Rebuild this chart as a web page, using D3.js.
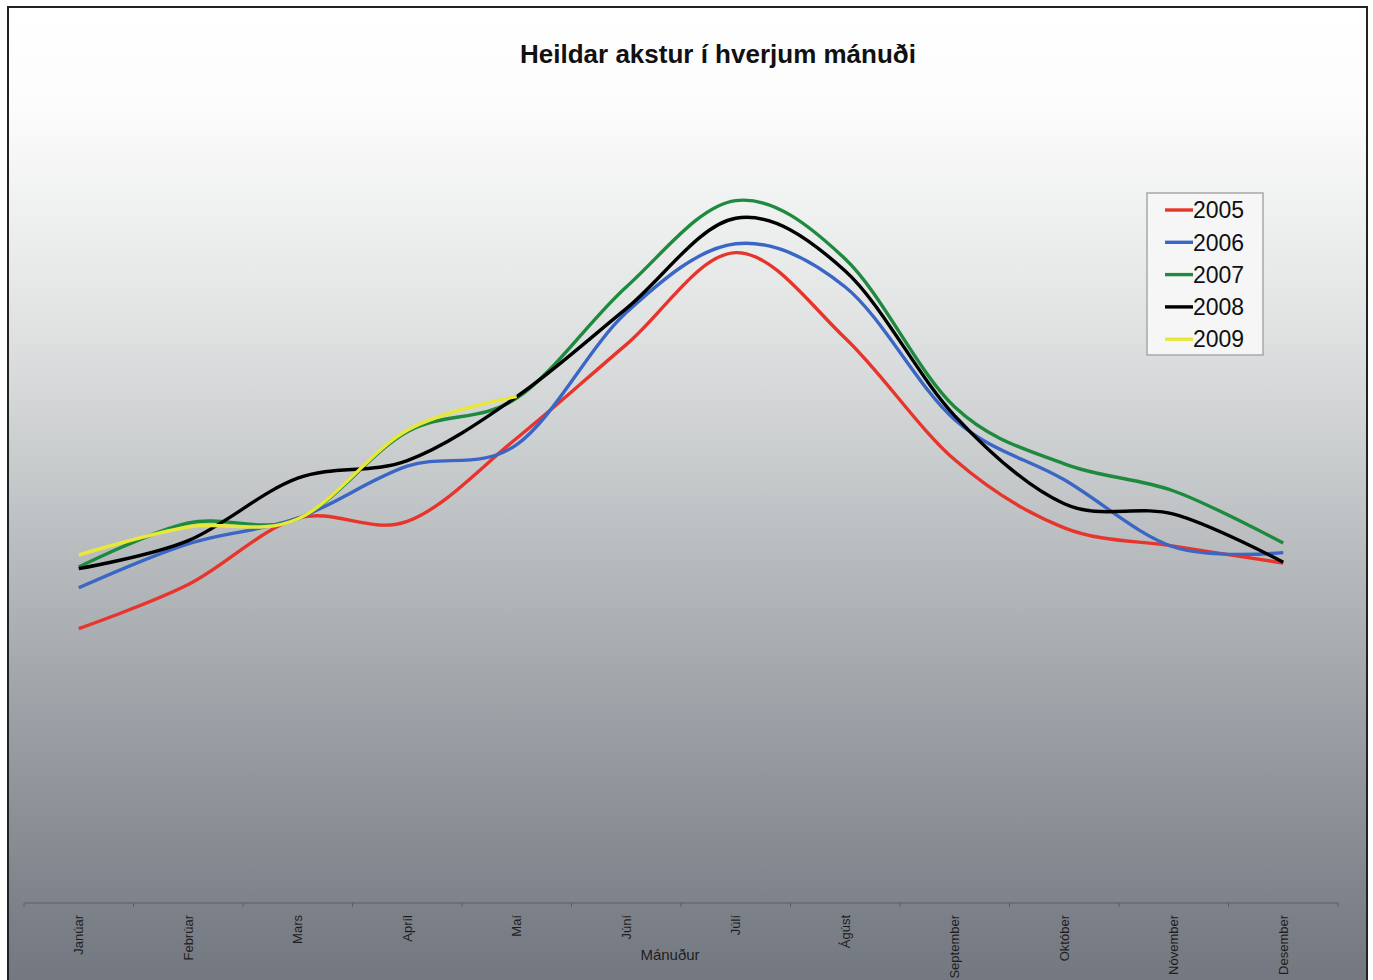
<!DOCTYPE html>
<html>
<head>
<meta charset="utf-8">
<script src="https://cdn.jsdelivr.net/npm/d3@7"></script>
<style>
  body { margin: 0; background: #fff; }
  svg { display: block; font-family: "Liberation Sans", Arial, sans-serif; }
</style>
</head>
<body>
<div id="chart"></div>
<script>
(function(){
    // data (no y axis in the original, arbitrary units)
    const months = ['Janúar', 'Febrúar', 'Mars', 'Apríl', 'Maí', 'Júní', 'Júlí',
                    'Ágúst', 'September', 'Október', 'Nóvember', 'Desember'];
    const years = ['2005', '2006', '2007', '2008', '2009'];
    const v2005 = [34.3, 39.8, 48.1, 47.7, 58.1, 69.8, 81.3, 70.6, 55.4, 46.9, 44.6, 42.5];
    const v2006 = [39.4, 44.9, 48.1, 54.6, 57.3, 73.8, 82.4, 77.0, 60.4, 52.9, 44.5, 43.8];
    const v2007 = [42.0, 47.5, 48.0, 58.9, 63.1, 77.0, 87.8, 80.5, 62.0, 54.9, 51.5, 45.0];
    const v2008 = [41.8, 45.3, 53.1, 55.3, 63.3, 74.3, 85.6, 79.0, 60.9, 49.9, 48.6, 42.6];
    const v2009 = [43.5, 47.0, 48.0, 59.1, 63.3];
    const colors = ['#e8352c', '#3a66c6', '#1e8a3e', '#000000', '#e8e83a'];

    const series = years.map((y, i) => ({
        year: y,
        color: colors[i],
        values: [v2005, v2006, v2007, v2008, v2009][i]
    }));

    const fullWidth = 1373;
    const fullHeight = 980;

    const svg = d3.select('#chart')
        .append('svg')
            .attr('width', fullWidth)
            .attr('height', fullHeight);

    const defs = svg.append('defs');
    const grad = defs.append('linearGradient')
        .attr('id', 'bg')
        .attr('x1', 0).attr('y1', 0).attr('x2', 0).attr('y2', 1);
    [[0, '#ffffff'], [0.1, '#fcfcfc'], [0.3, '#e4e6e6'], [0.45, '#cbcecf'],
     [0.62, '#adb0b4'], [0.78, '#93979d'], [0.92, '#7c8088'], [1, '#72777f']]
        .forEach(s => grad.append('stop').attr('offset', s[0]).attr('stop-color', s[1]));

    // frame
    svg.append('rect')
        .attr('x', 8).attr('y', 7)
        .attr('width', 1359).attr('height', 985)
        .style('fill', 'url(#bg)')
        .style('stroke', '#222')
        .style('stroke-width', 2);

    svg.append('text')
        .attr('x', 718).attr('y', 63)
        .attr('text-anchor', 'middle')
        .style('font-size', '26px')
        .style('font-weight', 'bold')
        .style('fill', '#111')
        .text('Heildar akstur í hverjum mánuði');

    const xScale = d3.scaleBand()
        .domain(months)
        .range([24, 1338]);

    const yScale = d3.scaleLinear()
        .domain([0, 100])
        .range([903, 103]);

    // x axis
    const axis = svg.append('g')
        .attr('transform', 'translate(0, 903)');

    axis.append('line')
        .attr('x1', xScale.range()[0]).attr('x2', xScale.range()[1])
        .style('stroke', '#5a5e64')
        .style('stroke-width', 1.2);

    const bounds = months.map(m => xScale(m)).concat([xScale.range()[1]]);
    axis.selectAll('.tick-mark')
        .data(bounds)
        .enter().append('line')
            .attr('class', 'tick-mark')
            .attr('x1', d => d).attr('x2', d => d)
            .attr('y1', 0).attr('y2', 4)
            .style('stroke', '#5a5e64');

    axis.selectAll('.month')
        .data(months)
        .enter().append('text')
            .attr('class', 'month')
            .attr('transform', d => `translate(${xScale(d) + xScale.bandwidth() / 2}, 12) rotate(-90)`)
            .attr('text-anchor', 'end')
            .attr('dy', '0.35em')
            .style('font-size', '13px')
            .style('fill', '#1e1e1e')
            .text(d => d);

    svg.append('text')
        .attr('x', 670).attr('y', 960)
        .attr('text-anchor', 'middle')
        .style('font-size', '15px')
        .style('fill', '#1e1e1e')
        .text('Mánuður');

    // lines
    const line = d3.line()
        .x((d, i) => xScale(months[i]) + xScale.bandwidth() / 2)
        .y(d => yScale(d))
        .curve(d3.curveCardinal.tension(0));

    svg.selectAll('.series')
        .data(series)
        .enter().append('path')
            .attr('class', 'series')
            .attr('d', d => line(d.values))
            .style('fill', 'none')
            .style('stroke', d => d.color)
            .style('stroke-width', 3.4);

    // legend
    const legend = svg.append('g')
        .attr('transform', 'translate(1147, 193)');

    legend.append('rect')
        .attr('width', 116).attr('height', 162)
        .style('fill', '#f6f6f6')
        .style('stroke', '#a8a8a8')
        .style('stroke-width', 1.5);

    const rows = legend.selectAll('.entry')
        .data(series)
        .enter().append('g')
            .attr('class', 'entry')
            .attr('transform', (d, i) => `translate(0, ${17 + i * 32.3})`);

    rows.append('line')
        .attr('x1', 18).attr('x2', 46)
        .style('stroke', d => d.color)
        .style('stroke-width', 3.4);

    rows.append('text')
        .attr('x', 46)
        .attr('dy', '0.36em')
        .style('font-size', '23px')
        .style('fill', '#111')
        .text(d => d.year);
}())
</script>
</body>
</html>
